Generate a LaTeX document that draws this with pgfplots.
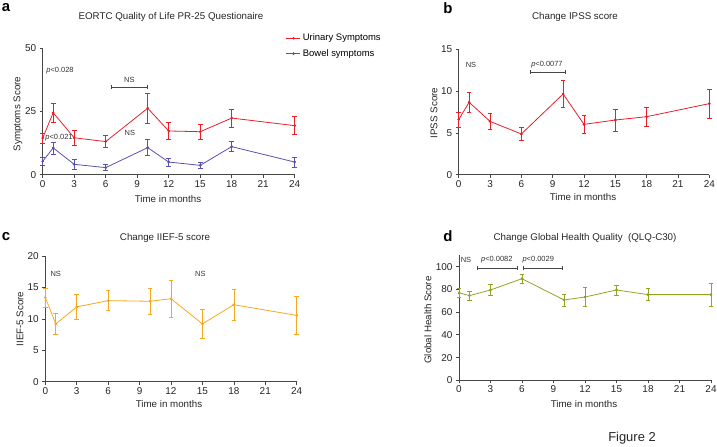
\documentclass[border=0pt]{standalone}
\usepackage{pgfplots}
\pgfplotsset{compat=1.18}
\usepackage{fontspec}
\setmainfont{Liberation Sans}
\usetikzlibrary{arrows.meta}
\definecolor{cred}{RGB}{235,30,40}
\definecolor{cblue}{RGB}{88,82,172}
\definecolor{corange}{RGB}{247,168,30}
\definecolor{colive}{RGB}{145,165,35}
\definecolor{cgray}{RGB}{70,70,70}
\pgfplotsset{
  myax/.style={scale only axis, axis lines=left, axis line style={-, line width=0.8pt, cgray},
    enlargelimits=false, xmin=0, xmax=24, xtick={0,3,...,24}, tick align=outside,
    major tick length=3bp, tick style={cgray, line width=0.7pt},
    ticklabel style={font=\fontsize{10}{12}\selectfont, text=black!85},
    /pgf/number format/assume math mode=true, anchor=south west, clip=false,
    xticklabel style={yshift=1bp}},
  ser/.style={color=#1, line width=0.8pt, mark=*, mark size=0.9bp,
    error bars/.cd, y dir=both, y explicit,
    error bar style={color=#1, line width=0.6pt},
    error mark options={color=#1, rotate=90, mark size=2.3bp, line width=0.6pt}},
}
\tikzset{brk/.style={cgray, line width=0.6pt, {Bar[width=4bp]}-{Bar[width=4bp]}},
  ann/.style={font=\fontsize{7.5}{9}\selectfont, text=black!80}}
\begin{document}
\begin{tikzpicture}
\useasboundingbox (0bp,0bp) rectangle (717bp,447bp);
% ---------- panel a ----------
\begin{axis}[myax, at={(42.7bp,272.3bp)}, width=252bp, height=126.4bp,
  ymin=0, ymax=50, ytick={0,25,50},
  legend style={at={(0.965,1.13)}, anchor=north west, draw=none, fill=none,
    font=\fontsize{9.5}{11}\selectfont, row sep=3bp, inner sep=0pt},
  legend cell align=left,
  legend image code/.code={\draw[#1, mark repeat=2, mark phase=2] plot coordinates {(0bp,0bp) (7bp,0bp) (14bp,0bp)};}]
\addplot+[ser=cred] table[x=x,y=y,y error=e] {
x y e
0 14.5 2.0
1 24.5 3.8
3 14.6 2.9
6 13.1 2.4
10 26.3 5.9
12 17.3 3.4
15 17.0 2.8
18 22.4 3.6
24 19.4 3.6
};
\addplot+[ser=cblue] table[x=x,y=y,y error=e] {
x y e
0 5.3 1.5
1 10.6 2.4
3 4.1 1.8
6 2.8 1.2
10 10.7 3.2
12 5.0 1.5
15 3.7 1.3
18 11.1 2.0
24 5.0 2.0
};
\legend{Urinary Symptoms, Bowel symptoms}
\node[ann] at (axis cs:1.65,41) {\textit{p}<0.028};
\draw[brk] (axis cs:6.5,34.6) -- (axis cs:10,34.6);
\node[ann] at (axis cs:8.25,37.6) {NS};
\node[ann] at (axis cs:1.55,14.8) {\textit{p}<0.021};
\node[ann] at (axis cs:8.3,16.4) {NS};
\end{axis}
% ---------- panel b ----------
\begin{axis}[myax, at={(458.7bp,272.3bp)}, width=250.6bp, height=125.4bp,
  ymin=0, ymax=15, ytick={0,5,10,15}]
\addplot+[ser=cred] table[x=x,y=y,y error=e] {
x y e
0 6.6 0.9
1 8.66 1.2
3 6.38 1.0
6 4.87 0.76
10 9.65 1.6
12 6.02 1.05
15 6.54 1.3
18 6.94 1.15
24 8.5 1.7
};
\node[ann] at (axis cs:1.18,13.1) {NS};
\draw[brk] (axis cs:6.8,12.3) -- (axis cs:10.2,12.3);
\node[ann] at (axis cs:8.45,13.2) {\textit{p}<0.0077};
\end{axis}
% ---------- panel c ----------
\begin{axis}[myax, at={(45.3bp,65.3bp)}, width=251.4bp, height=125.7bp,
  ymin=0, ymax=20, ytick={0,5,10,15,20}]
\addplot+[ser=corange] table[x=x,y=y,y error=e] {
x y e
0 13.4 1.5
1 9.2 1.7
3 11.9 2.0
6 12.9 1.6
10 12.8 2.1
12 13.2 2.9
15 9.2 2.3
18 12.25 2.45
24 10.55 3.0
};
\node[ann] at (axis cs:1.0,17.1) {NS};
\node[ann] at (axis cs:14.8,17.1) {NS};
\end{axis}
% ---------- panel d ----------
\begin{axis}[myax, at={(459bp,66.7bp)}, width=252bp, height=125bp,
  ymin=0, ymax=110, ytick={0,20,...,100}]
\addplot+[ser=colive] table[x=x,y=y,y error=e] {
x y e
0 77 4
1 74.5 4
3 79.5 5
6 89.4 3.8
10 70.7 5.3
12 73.3 8.4
15 79.5 4.3
18 75.4 5.3
24 75.4 10
};
\node[ann] at (axis cs:0.67,105.6) {NS};
\draw[brk] (axis cs:1.75,98.5) -- (axis cs:5.55,98.5);
\node[ann] at (axis cs:3.6,106.5) {\textit{p}<0.0082};
\draw[brk] (axis cs:6.1,98.5) -- (axis cs:9.9,98.5);
\node[ann] at (axis cs:7.55,106.5) {\textit{p}<0.0029};
\end{axis}
% ---------- texts ----------
\tikzset{ttl/.style={font=\fontsize{9.8}{11}\selectfont, text=black!85},
  lab/.style={font=\fontsize{9.8}{11}\selectfont, text=black!85},
  pl/.style={font=\fontsize{15}{17}\selectfont\bfseries}}
\node[ttl] at (171bp,429.7bp) {EORTC Quality of Life PR-25 Questionaire};
\node[ttl] at (575bp,429.7bp) {Change IPSS score};
\node[ttl] at (165bp,208.7bp) {Change IIEF-5 score};
\node[ttl] at (585bp,208.7bp) {Change Global Health Quality\ \ (QLQ-C30)};
\node[pl] at (6bp,439bp) {a};
\node[pl] at (448bp,439bp) {b};
\node[pl] at (6bp,210.5bp) {c};
\node[pl] at (448bp,211bp) {d};
\node[lab, rotate=90] at (18bp,333bp) {Symptoms Score};
\node[lab, rotate=90] at (434bp,334bp) {IPSS Score};
\node[lab, rotate=90] at (20bp,128bp) {IIEF-5 Score};
\node[lab, rotate=90] at (428bp,127bp) {Global Health Score};
\node[lab] at (168bp,248bp) {Time in months};
\node[lab] at (583bp,250bp) {Time in months};
\node[lab] at (169bp,42.7bp) {Time in months};
\node[lab] at (584bp,43bp) {Time in months};
\node[font=\fontsize{13}{15}\selectfont, text=black!85] at (632bp,9bp) {Figure 2};
\end{tikzpicture}
\end{document}
